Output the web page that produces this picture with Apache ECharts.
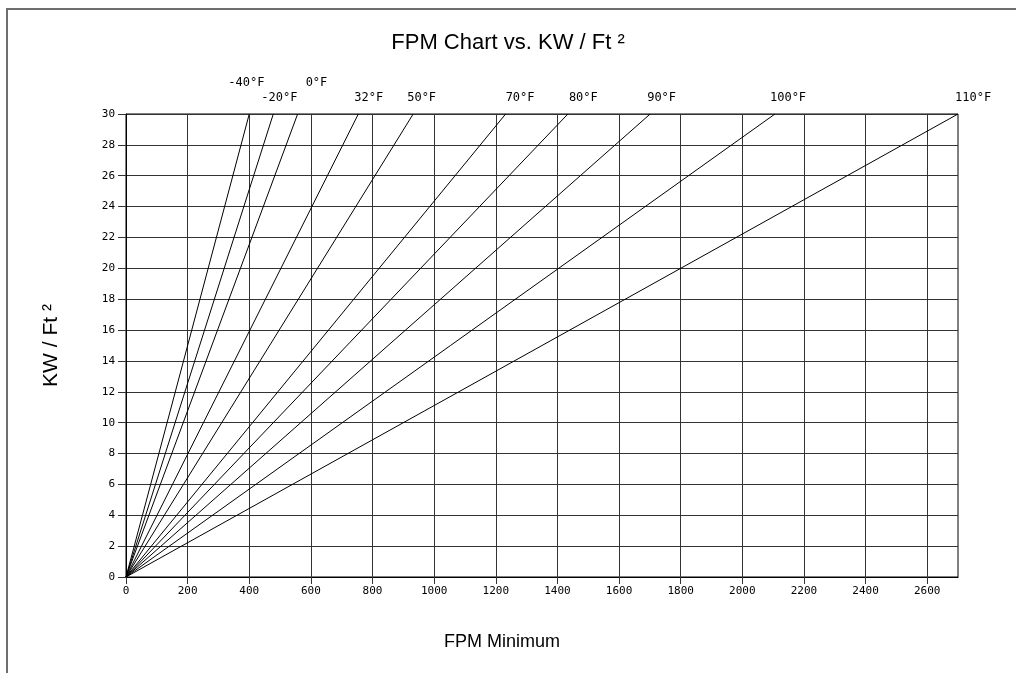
<!DOCTYPE html>
<html>
<head>
<meta charset="utf-8">
<script src="https://cdn.jsdelivr.net/npm/echarts@6/dist/echarts.min.js"></script>
<style>
html,body{margin:0;padding:0;background:#fff;}
#chart{width:1016px;height:673px;}
</style>
</head>
<body>
<div id="chart"></div>
<script>
// Data
var temperatures = ['-40°F', '-20°F', '0°F', '32°F', '50°F', '70°F', '80°F', '90°F', '100°F', '110°F'];
var fpmAt30 = [400, 478, 557, 754, 932, 1232, 1434, 1701, 2106, 2700]; // FPM where each line reaches 30 KW/Ft²
var kwTop = 30;
var xTickValues = [0, 200, 400, 600, 800, 1000, 1200, 1400, 1600, 1800, 2000, 2200, 2400, 2600];

// Layout (label offsets from each line's end)
var labelOffsets = [[-21, -31], [-12, -16], [8, -31], [-4, -16], [-6, -16], [0, -16], [1, -16], [-3, -16], [-5, -16], [-3, -16]];

var chart = echarts.init(document.getElementById('chart'));
var monoFont = '"DejaVu Sans Mono", monospace';
var series = temperatures.map(function (t, i) {
  return {
    name: t,
    type: 'line',
    data: [[0, 0], [fpmAt30[i], kwTop]],
    symbol: 'none',
    silent: true,
    lineStyle: { color: '#000', width: 1 },
    endLabel: {
      show: true,
      formatter: t,
      offset: [labelOffsets[i][0], labelOffsets[i][1]],
      align: 'left',
      verticalAlign: 'middle',
      distance: 0,
      fontFamily: monoFont,
      fontSize: 12,
      color: '#000'
    }
  };
});

chart.setOption({
  animation: false,
  backgroundColor: '#fff',
  title: {
    text: 'FPM Chart vs. KW / Ft ²',
    left: 'center',
    top: 27,
    textStyle: { fontFamily: 'Arial, "Liberation Sans", sans-serif', fontSize: 22, fontWeight: 'normal', color: '#000' }
  },
  graphic: [{
    type: 'rect',
    shape: { x: 7, y: 9, width: 1100, height: 1000 },
    style: { fill: 'none', stroke: '#6e6e6e', lineWidth: 2 },
    silent: true
  }],
  grid: { left: 126, right: 58, top: 114, bottom: 96, show: true, borderColor: '#000', borderWidth: 1 },
  xAxis: {
    type: 'value',
    min: 0, max: 2700, interval: 200,
    name: 'FPM Minimum',
    nameLocation: 'middle',
    nameGap: 56,
    nameTextStyle: { fontFamily: 'Arial, "Liberation Sans", sans-serif', fontSize: 18, color: '#000', padding: [0, 80, 0, 0] },
    axisLine: { lineStyle: { color: '#000' } },
    axisTick: { show: true, length: 7, lineStyle: { color: '#333' }, customValues: xTickValues },
    axisLabel: { fontFamily: monoFont, fontSize: 11, color: '#000', margin: 9, customValues: xTickValues,
      formatter: function (v) { return String(v); } },
    splitLine: { show: true, lineStyle: { color: '#333', width: 1 } }
  },
  yAxis: {
    type: 'value',
    min: 0, max: 30, interval: 2,
    name: 'KW / Ft ²',
    nameLocation: 'middle',
    nameGap: 64,
    nameTextStyle: { fontFamily: 'Arial, "Liberation Sans", sans-serif', fontSize: 21, color: '#000' },
    axisLine: { show: true, lineStyle: { color: '#000' } },
    axisTick: { show: true, length: 8, lineStyle: { color: '#333' } },
    axisLabel: { fontFamily: monoFont, fontSize: 11, color: '#000', margin: 11 },
    splitLine: { show: true, lineStyle: { color: '#333', width: 1 } }
  },
  series: series
});
</script>
</body>
</html>
